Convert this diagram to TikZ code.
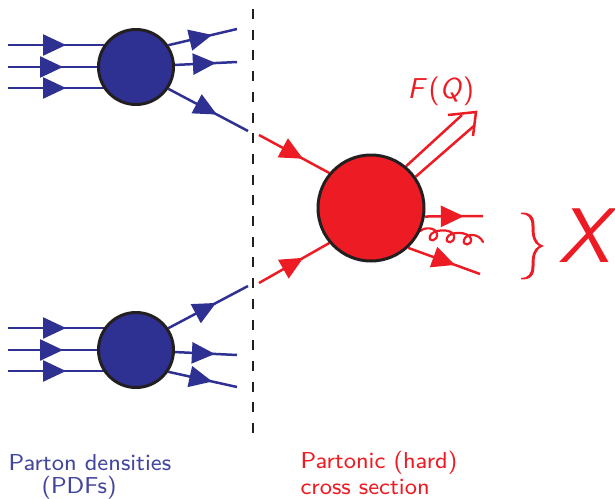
\documentclass[tikz,border=0pt]{standalone}
\usetikzlibrary{arrows.meta,decorations.markings}
\definecolor{pblue}{HTML}{2E3192}
\definecolor{pred}{HTML}{ED1C24}
\definecolor{pdark}{HTML}{231F20}
\tikzset{
  x=1pt,y=-1pt,
  blob/.style={circle,draw=pdark,line width=3pt,inner sep=0pt,minimum size=#1},
  headat/.style={postaction={decorate,decoration={markings,mark=at position #1pt with {\arrow{Triangle[length=23pt,width=21pt]}}}}},
  leg/.style={line width=2.5pt,line cap=butt},
  bleg/.style={leg,draw=pblue},
  rleg/.style={leg,draw=pred},
  btext/.style={anchor=base west,inner sep=0pt,scale=2.88,text=pblue!90!white,font=\sffamily\fontsize{8}{10}\selectfont},
  rtext/.style={anchor=base west,inner sep=0pt,scale=2.88,text=pred,font=\sffamily\fontsize{8}{10}\selectfont},
}
\begin{document}
\begin{tikzpicture}
\useasboundingbox (0,0) rectangle (615,498);
% free ends
\coordinate (a1) at (8,45); \coordinate (a2) at (8,67); \coordinate (a3) at (8,88);
\coordinate (ao1) at (237,29); \coordinate (ao2) at (237,62); \coordinate (ao3) at (248,131);
\coordinate (b1) at (8,328); \coordinate (b2) at (8,350); \coordinate (b3) at (8,371);
\coordinate (bo1) at (248,286); \coordinate (bo2) at (237,355); \coordinate (bo3) at (237,387);
\coordinate (rin1) at (259,135); \coordinate (rin2) at (259,283);
\coordinate (ro1) at (483,216); \coordinate (ro2) at (480,274);
\coordinate (dtop) at (253,9); \coordinate (dbot) at (253,436);
% connectors are drawn first; the blobs sit on top
\path (136,67) node[blob=75pt,draw=none] (A) {};
\path (136,350) node[blob=75pt,draw=none] (B) {};
\path (371,208) node[blob=106pt,draw=none] (R) {};
\draw[pdark,line width=2.8pt,dash pattern=on 10pt off 10.7pt] (dtop) -- (dbot);
\draw[bleg,headat=58] (a1) -- (a1 -| A.center);
\draw[bleg,headat=55] (a2) -- (A.west);
\draw[bleg,headat=58] (a3) -- (a3 -| A.center);
\draw[bleg,headat=45] (A.34) -- (ao1);
\draw[bleg,headat=41] (A.3) -- (ao2);
\draw[bleg,headat=55] (A.-34) -- (ao3);
\draw[bleg,headat=58] (b1) -- (b1 -| B.center);
\draw[bleg,headat=55] (b2) -- (B.west);
\draw[bleg,headat=58] (b3) -- (b3 -| B.center);
\draw[bleg,headat=54] (B.34) -- (bo1);
\draw[bleg,headat=40] (B.-3) -- (bo2);
\draw[bleg,headat=45] (B.-34) -- (bo3);
\draw[rleg,headat=50] (rin1) -- (R.140);
\draw[rleg,headat=51] (rin2) -- (R.220);
\draw[rleg,headat=39] (R.-9) -- (ro1);
\draw[rleg,headat=50] (R.-47) -- (ro2);
% double arrow
\coordinate (ft) at (476,112);
\draw[rleg] (R.50) -- (462,115);
\draw[rleg] (R.35) -- (475,125);
\draw[rleg,line join=miter] (448,115) -- (ft) -- (473,136);
% gluon
\draw[pred,line width=2.2pt,line cap=round]
  (R.-25) .. controls (424,227) and (436,227) .. (437,234)
  .. controls (438,241) and (428,243) .. (430,236)
  .. controls (432,229) and (453,228) .. (454,236)
  .. controls (455,244) and (445,244) .. (447,238)
  .. controls (449,231) and (469,231) .. (471,239)
  .. controls (472,246) and (462,246) .. (464,240)
  .. controls (466,233) and (479,233) .. (483,242);
% blobs
\node[blob=75pt,fill=pblue] at (A) {};
\node[blob=75pt,fill=pblue] at (B) {};
\node[blob=106pt,fill=pred] at (R) {};
% brace
\fill[pred]
  (521,212.6) .. controls (531,212) and (534.5,217) .. (534.5,226)
  .. controls (534.5,236) and (535,243) .. (544,246)
  .. controls (535,249) and (534.5,256) .. (534.5,266)
  .. controls (534.5,275) and (531,280) .. (521,279.4)
  -- (521,278) .. controls (528,278) and (531.5,274) .. (531.5,266)
  .. controls (531.5,256) and (533,249) .. (539,246)
  .. controls (533,243) and (531.5,236) .. (531.5,226)
  .. controls (531.5,218) and (528,214) .. (521,214) -- cycle;
% labels
\node[rtext,scale=1.0] (fq) at (407,98) {\fontsize{10}{10}\selectfont\textsl{F}\kern0.6pt(\textsl{Q})};
\node[rtext,scale=2.69] (xx) at (557,262) {\fontsize{10}{10}\selectfont\textsl{X}};
\node[btext] (p1) at (8,470) {Parton densities};
\node[btext] (p2) at (41,493) {(PDFs)};
\node[rtext] (h1) at (300,468) {Partonic (hard)};
\node[rtext] (h2) at (300,494) {cross section};
\end{tikzpicture}
\end{document}
